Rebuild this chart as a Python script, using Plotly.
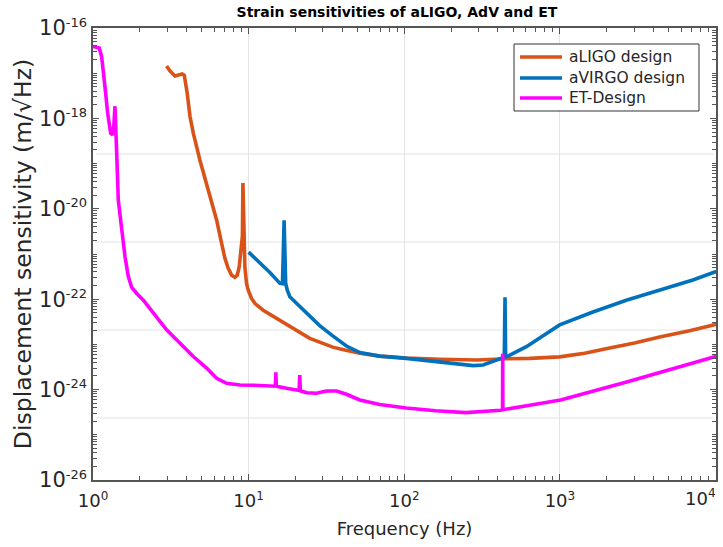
import plotly.graph_objects as go

# aLIGO design displacement sensitivity (Hz, m/sqrt(Hz))
aligo_f = [2.97, 3.12, 3.36, 3.58, 3.74, 3.86, 3.95, 4.03, 4.20, 4.41, 4.86, 5.64,
           6.23, 6.70, 7.04, 7.39, 7.77, 8.16, 8.45, 8.70, 8.88, 9.12, 9.19, 9.30,
           9.46, 9.70, 9.93, 10.44, 10.96, 12.4, 15.1, 18.4, 24.7, 28.6, 34.7, 41.5,
           51.8, 69.6, 104, 169, 292, 455, 640, 996, 1442, 2085, 3020, 4370, 6810,
           10140]
aligo_s = [1.45e-17, 1.13e-17, 8.7e-18, 9.1e-18, 9.6e-18, 9.0e-18, 6.0e-18, 3.6e-18,
           1.1e-18, 4.7e-19, 1.2e-19, 1.85e-20, 5.6e-21, 1.73e-21, 8.0e-22, 4.8e-22,
           3.4e-22, 3.05e-22, 3.4e-22, 5.2e-22, 1.23e-21, 2.5e-21, 3.7e-20, 2.5e-21,
           5.1e-22, 2.2e-22, 1.6e-22, 1.04e-22, 8.1e-23, 5.7e-23, 3.8e-23, 2.45e-23,
           1.36e-23, 1.12e-23, 8.7e-24, 7.5e-24, 6.4e-24, 5.5e-24, 5.0e-24, 4.7e-24,
           4.5e-24, 4.8e-24, 4.9e-24, 5.3e-24, 6.4e-24, 8.3e-24, 1.07e-23, 1.45e-23,
           2.0e-23, 2.8e-23]

# aVIRGO design
avirgo_f = [10.0, 11.8, 13.7, 15.9, 16.5, 16.9, 17.3, 17.7, 18.4, 20.3, 24.7, 28.6,
            34.7, 42.5, 51.8, 69.6, 103, 161, 227, 277, 321, 372, 410, 439, 444, 448,
            464, 609, 996, 1630, 2670, 4370, 7150, 10100]
avirgo_s = [1.1e-21, 6.4e-22, 3.9e-22, 2.24e-22, 2.2e-22, 5.6e-21, 2.24e-22, 1.6e-22,
            1.13e-22, 8.1e-23, 4.1e-23, 2.6e-23, 1.55e-23, 9.2e-24, 6.6e-24, 5.5e-24,
            4.9e-24, 4.1e-24, 3.7e-24, 3.4e-24, 3.5e-24, 4.2e-24, 4.8e-24, 5.2e-24,
            1.1e-22, 5.3e-24, 5.5e-24, 8.9e-24, 2.7e-23, 5.2e-23, 9.5e-23, 1.6e-22,
            2.66e-22, 4.1e-22]

# ET design
et_f = [1.0, 1.097, 1.137, 1.165, 1.206, 1.243, 1.273, 1.299, 1.338, 1.360, 1.384,
        1.400, 1.42, 1.454, 1.53, 1.606, 1.685, 1.772, 1.909, 2.10, 2.97, 4.41, 5.37,
        6.23, 7.22, 8.79, 10.7, 13.0, 14.85, 14.96, 15.07, 17.5, 21.1, 21.3, 21.5,
        23.6, 27.3, 31.6, 36.7, 42.5, 51.8, 69.6, 103, 159, 249, 416, 428, 429, 430,
        640, 1011, 2685, 7115, 10140]
et_s = [3.9e-17, 3.6e-17, 2.3e-17, 1.17e-17, 3.6e-18, 1.29e-18, 6.6e-19, 4.7e-19,
        4.3e-19, 6.5e-19, 1.86e-18, 4.0e-19, 1.7e-19, 1.55e-20, 2.9e-21, 8.7e-22,
        3.2e-22, 1.83e-22, 1.34e-22, 9.6e-23, 2.1e-23, 5.4e-24, 3.0e-24, 1.78e-24,
        1.38e-24, 1.26e-24, 1.25e-24, 1.2e-24, 1.19e-24, 2.4e-24, 1.18e-24, 1.07e-24,
        9.6e-25, 2.1e-24, 9.4e-25, 8.5e-25, 8.3e-25, 9.3e-25, 9.3e-25, 7.9e-25,
        5.9e-25, 4.7e-25, 3.9e-25, 3.4e-25, 3.1e-25, 3.5e-25, 3.6e-25, 6.2e-24,
        3.6e-25, 4.5e-25, 5.9e-25, 1.48e-24, 3.9e-24, 5.5e-24]

# tick labels
x_exps = [0, 1, 2, 3, 4]
y_exps = [-26, -24, -22, -20, -18, -16]

series = [
    ("aLIGO design", aligo_f, aligo_s, "#D95319"),
    ("aVIRGO design", avirgo_f, avirgo_s, "#0072BD"),
    ("ET-Design", et_f, et_s, "#FF00FF"),
]

FONT = "DejaVu Sans"
TXT = "#262626"
AX = "#555555"
XTICK_SIZE = 18


def power_label(e, sup_px):
    return f"10<sup><span style='font-size:{sup_px}px'>{e}</span></sup>"


fig = go.Figure()
for name, f, s, color in series:
    fig.add_trace(go.Scatter(x=f, y=s, mode="lines", name=name, showlegend=False,
                             line=dict(color=color, width=3.6)))

# horizontal grid lines of the log panel
grid_fracs = [0.7212, 0.5265, 0.3319, 0.1372]
for g in grid_fracs:
    fig.add_shape(type="line", xref="x domain", yref="y domain",
                  x0=0.004, x1=0.996, y0=g, y1=g,
                  line=dict(color="#e3e3e3", width=1.2), layer="below")

# boxed legend in the upper right corner
leg_x0, leg_x1, leg_y0, leg_y1 = 0.6758, 0.9727, 0.8164, 0.9646
fig.add_shape(type="rect", xref="x domain", yref="y domain",
              x0=leg_x0, x1=leg_x1, y0=leg_y0, y1=leg_y1,
              line=dict(color="#333333", width=1), fillcolor="white", layer="above")
row_y = [0.9358, 0.8894, 0.8451]
for (name, _, _, color), ry in zip(series, row_y):
    fig.add_shape(type="line", xref="x domain", yref="y domain",
                  x0=0.6854, x1=0.7528, y0=ry, y1=ry,
                  line=dict(color=color, width=3.6), layer="above")
    fig.add_annotation(xref="x domain", yref="y domain", x=0.7608, y=ry,
                       xanchor="left", yanchor="middle", showarrow=False,
                       text=name, font=dict(family=FONT, size=15.5, color=TXT))

# the last decade label is kept inside the page, right-aligned to the axis end
x_ticktext = [power_label(e, 12) for e in x_exps]
fig.add_annotation(xref="x domain", yref="y domain", x=1.0032, y=0,
                   xanchor="right", yanchor="top", yshift=-4, showarrow=False,
                   text=x_ticktext[-1],
                   font=dict(family=FONT, size=XTICK_SIZE, color=TXT))
x_ticktext[-1] = ""

axis_common = dict(
    type="log",
    showline=True, linecolor=AX, linewidth=1.5,
    mirror="ticks", ticks="inside", ticklen=6, tickcolor=AX,
    tickwidth=1, zeroline=False, automargin=False,
)

fig.update_xaxes(
    **axis_common,
    range=[0, 4.003],
    tickvals=[10 ** e for e in x_exps],
    ticktext=x_ticktext,
    tickfont=dict(family=FONT, size=XTICK_SIZE, color=TXT),
    ticklabelstandoff=4,
    showgrid=True, gridcolor="#e3e3e3", gridwidth=1.2,
    minor=dict(ticks="inside", ticklen=4, tickcolor=AX, dtick="D1",
               showgrid=False),
    title=dict(text="Frequency (Hz)", font=dict(family=FONT, size=18, color=TXT),
               standoff=12),
)
fig.update_yaxes(
    **axis_common,
    range=[-26, -16],
    tickvals=[10.0 ** e for e in y_exps],
    ticktext=[power_label(e, 13) for e in y_exps],
    tickfont=dict(family=FONT, size=21, color=TXT),
    showgrid=False,
    minor=dict(ticks="inside", ticklen=4, tickcolor=AX, dtick="D1",
               showgrid=False),
    title=dict(text="Displacement sensitivity (m/√Hz)",
               font=dict(family=FONT, size=23.5, color=TXT), standoff=1),
)

fig.update_layout(
    width=723, height=547,
    margin=dict(l=93, r=7, t=28, b=67),
    paper_bgcolor="white", plot_bgcolor="white",
    title=dict(text="<b>Strain sensitivities of aLIGO, AdV and ET</b>",
               font=dict(family=FONT, size=14, color="black"),
               x=0.549, xanchor="center", y=1 - 12 / 547, yanchor="middle",
               xref="container", yref="container"),
    showlegend=False,
)

fig.write_html("out.html")
